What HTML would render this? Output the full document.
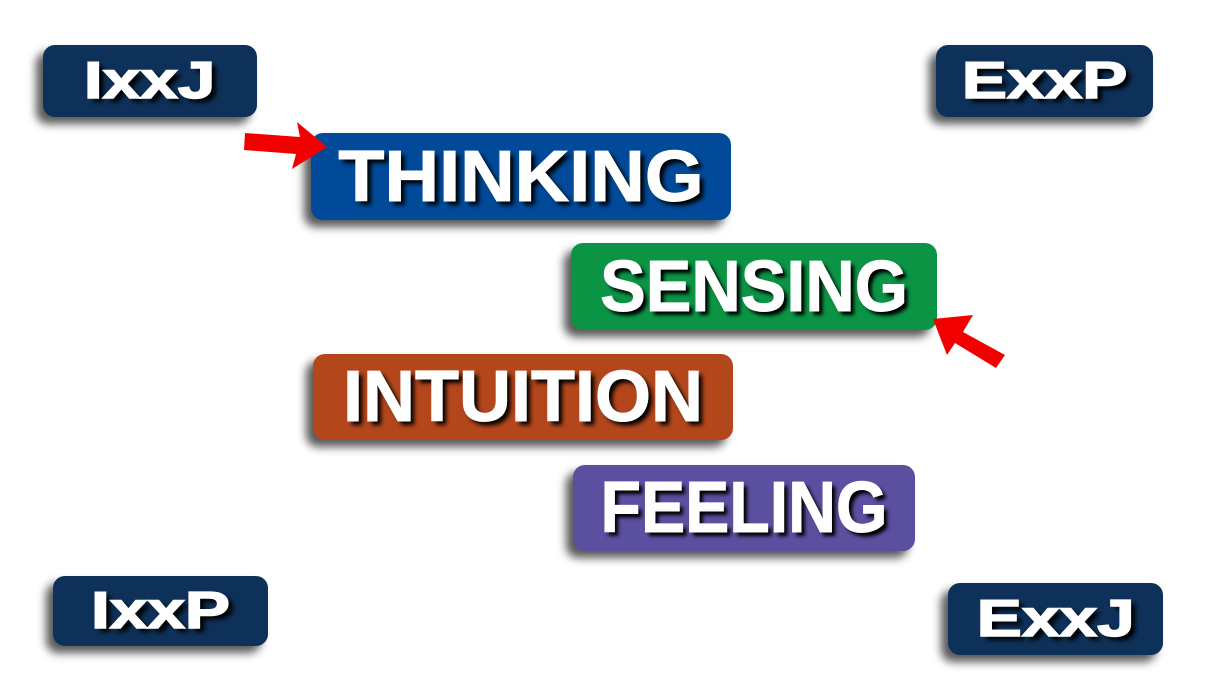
<!DOCTYPE html>
<html><head><meta charset="utf-8"><style>
body{margin:0;width:1213px;height:677px;background:#fff;position:relative;overflow:hidden;font-family:"Liberation Sans",sans-serif}
.b{position:absolute;border-radius:12px;box-shadow:-7px 7px 9px rgba(0,0,0,.65);display:flex;align-items:center;justify-content:center}
.b span{display:inline-block;color:#fff;font-weight:bold;text-shadow:4px 4px 4px #000;white-space:nowrap}
.s span{font-size:52px;transform:scaleX(1.3);-webkit-text-stroke:1.5px #fff}
.m span{font-size:72px;transform:scaleX(1.0);-webkit-text-stroke:1px #fff}
.n{background:#0e3159}
</style></head><body>
<div class="b s n" style="left:43px;top:45px;width:214px;height:72px"><span>IxxJ</span></div>
<div class="b s n" style="left:936px;top:45px;width:217px;height:72px"><span>ExxP</span></div>
<div class="b s n" style="left:53px;top:576px;width:215px;height:70px"><span>IxxP</span></div>
<div class="b s n" style="left:948px;top:583px;width:215px;height:72px"><span>ExxJ</span></div>
<div class="b m" style="left:311px;top:133px;width:420px;height:87px;background:#004a99"><span style="transform:scaleX(1.05)">THINKING</span></div>
<div class="b m" style="left:571px;top:243px;width:366px;height:87px;background:#0a9444"><span style="transform:scaleX(0.95)">SENSING</span></div>
<div class="b m" style="left:313px;top:354px;width:420px;height:86px;background:#b4461c"><span>INTUITION</span></div>
<div class="b m" style="left:573px;top:465px;width:342px;height:86px;background:#5b4f9f"><span style="transform:scaleX(0.92)">FEELING</span></div>
<svg style="position:absolute;left:0;top:0" width="1213" height="677">
<polygon fill="#f20000" points="245,133 300,137 297,122 327,147 292,169 296,154 244,150"/>
<polygon fill="#f20000" points="933,319 973,315 963,332 1005,355 996,368 955,343 947,355"/>
</svg>
</body></html>
